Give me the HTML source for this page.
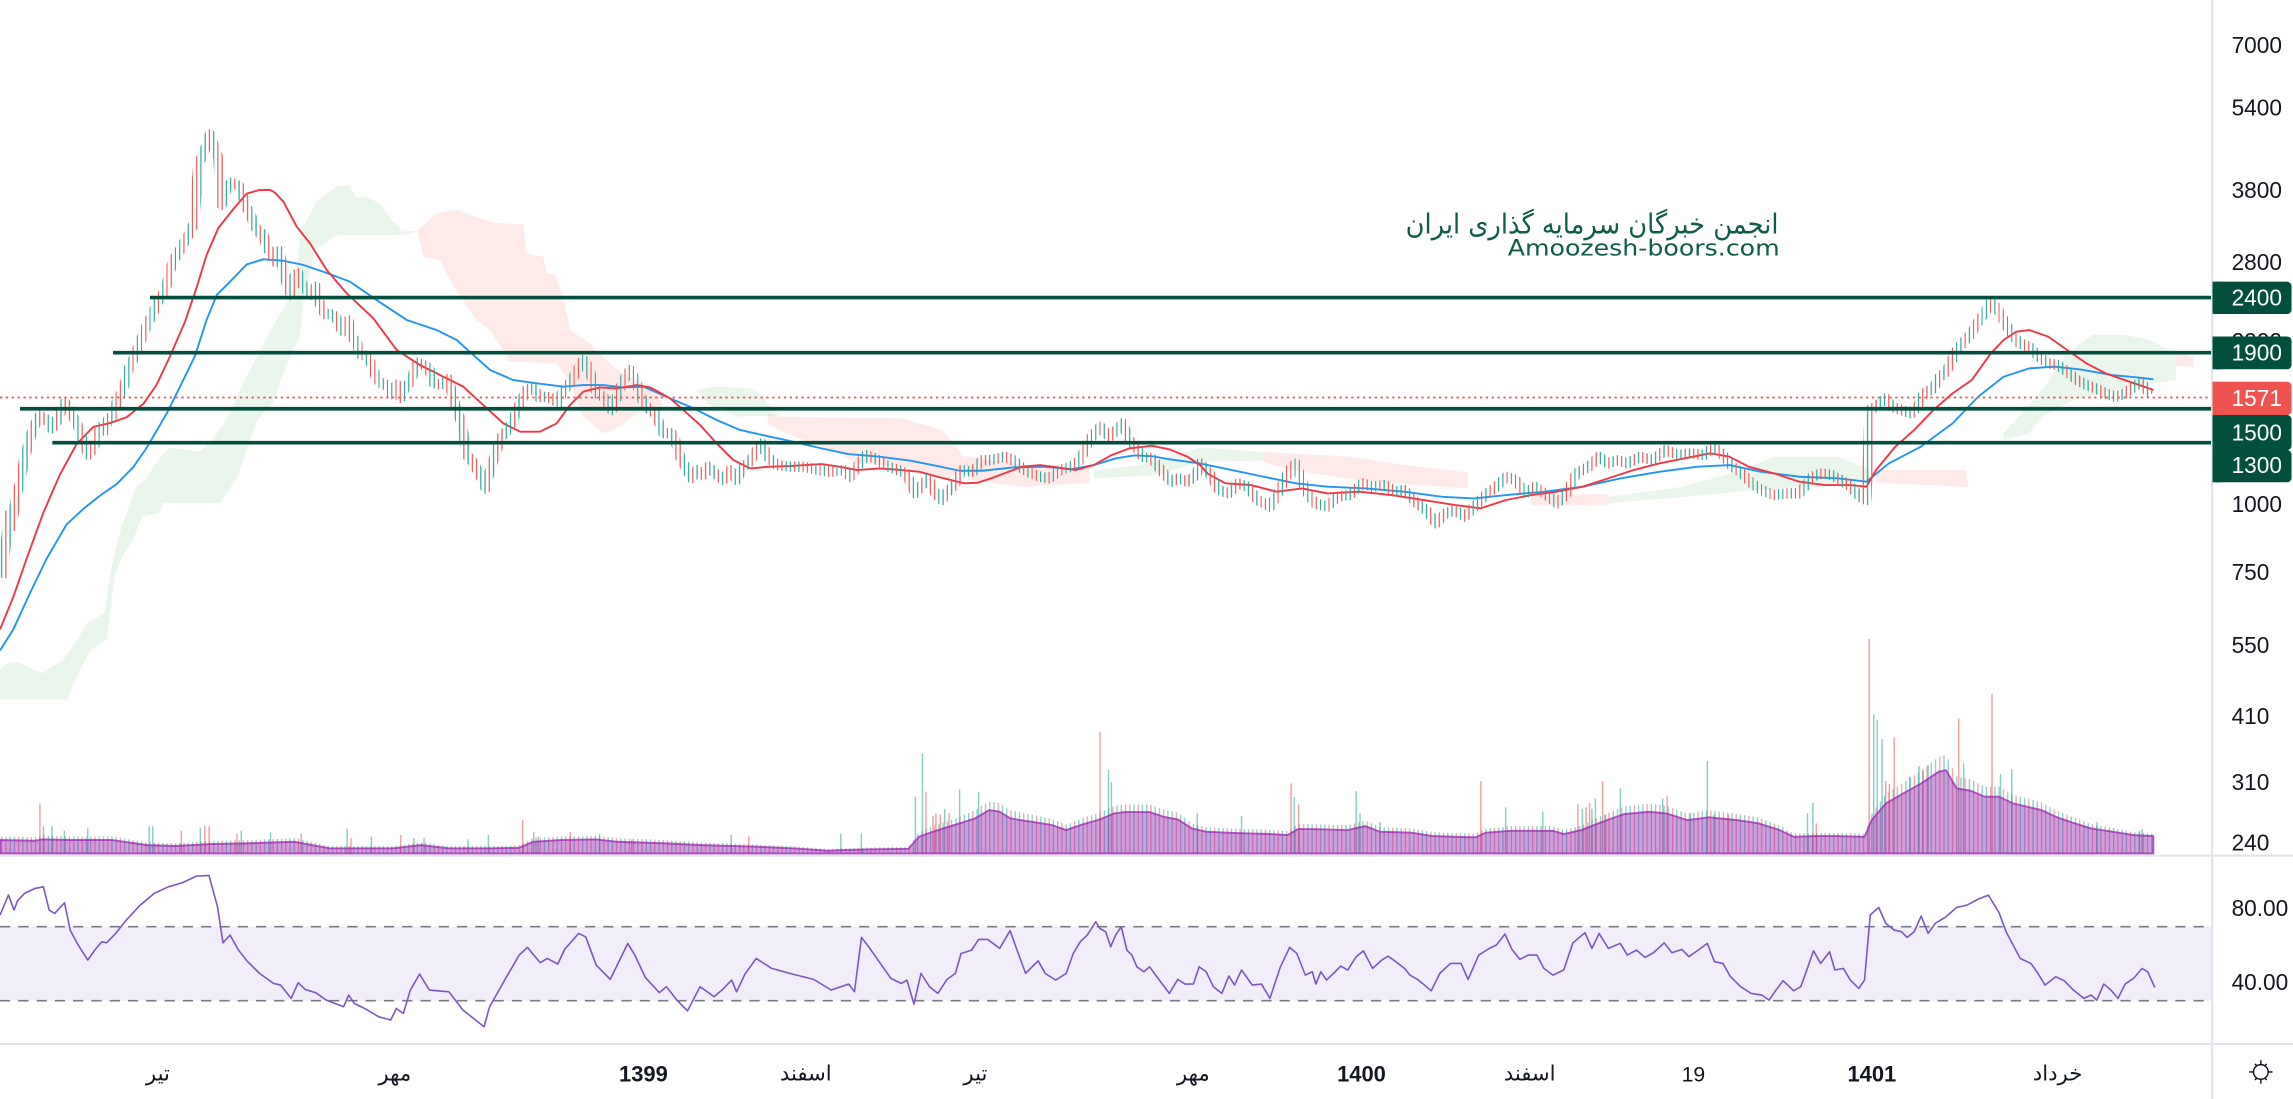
<!DOCTYPE html>
<html><head><meta charset="utf-8"><title>Chart</title>
<style>
html,body{margin:0;padding:0;background:#fff;overflow:hidden;}
svg{display:block;}
.ax{font-family:"Liberation Sans","DejaVu Sans",sans-serif;font-size:15.5px;fill:#131722;}
.lb{font-family:"Liberation Sans","DejaVu Sans",sans-serif;font-size:15.5px;fill:#ffffff;}
.tm{font-family:"DejaVu Sans","Liberation Sans",sans-serif;font-size:14.5px;fill:#131722;}
.tb{font-family:"Liberation Sans","DejaVu Sans",sans-serif;font-size:15px;font-weight:bold;fill:#131722;}
</style></head>
<body>
<svg xmlns="http://www.w3.org/2000/svg" xmlns:xlink="http://www.w3.org/1999/xlink" width="2293" height="1099" viewBox="0 0 1568 751.5" preserveAspectRatio="none">
<defs>
<pattern id="cp" patternUnits="userSpaceOnUse" x="0.2" y="0" width="17.4" height="20">
<rect x="0" y="0" width="1.8" height="20" fill="#26a69a"/>
<rect x="2.9" y="0" width="1.8" height="20" fill="#ef5350"/>
<rect x="5.8" y="0" width="1.8" height="20" fill="#26a69a"/>
<rect x="8.7" y="0" width="1.8" height="20" fill="#ef5350"/>
<rect x="11.6" y="0" width="1.8" height="20" fill="#ef5350"/>
<rect x="14.5" y="0" width="1.8" height="20" fill="#26a69a"/>
</pattern>
<pattern id="wp" patternUnits="userSpaceOnUse" x="0.2" y="0" width="17.4" height="20">
<rect x="0.6" y="0" width="0.6" height="20" fill="#26a69a"/>
<rect x="3.5" y="0" width="0.6" height="20" fill="#ef5350"/>
<rect x="6.4" y="0" width="0.6" height="20" fill="#26a69a"/>
<rect x="9.3" y="0" width="0.6" height="20" fill="#ef5350"/>
<rect x="12.2" y="0" width="0.6" height="20" fill="#ef5350"/>
<rect x="15.1" y="0" width="0.6" height="20" fill="#26a69a"/>
</pattern>
<pattern id="vp" patternUnits="userSpaceOnUse" x="0.7" y="0" width="8.7" height="20">
<rect x="0" y="0" width="0.9" height="20" fill="#26a69a" fill-opacity="0.55"/>
<rect x="2.9" y="0" width="0.9" height="20" fill="#ef5350" fill-opacity="0.55"/>
<rect x="5.8" y="0" width="0.9" height="20" fill="#26a69a" fill-opacity="0.55"/>
</pattern>
</defs>
<rect x="0" y="0" width="1568" height="751.5" fill="#ffffff"/>

<!-- Ichimoku clouds -->
<g fill="#43a047" fill-opacity="0.11">
<polygon points="0,457.8 4.6,454 11.4,452.6 22.8,457.8 29.6,460.4 36.5,455.2 42.2,452.6 47.9,444.8 54.7,434.3 59.3,426.5 66.1,422.5 71.8,418.6 75.2,392.5 78.6,378.1 82.1,363.7 86.6,350.7 93.5,332.4 98,329.8 104.9,319.3 112.8,308.9 116.3,306.2 136.8,308.9 145.9,299.7 152.7,290.6 159.6,277.5 166.4,261.8 173.2,248.7 180,235.7 186.9,222.6 193.8,210.8 200.6,200.4 204,173 206.3,157.3 216.5,137.9 230.2,127.6 238.2,126.5 243.9,135.6 249.6,134.5 259.8,139 266.7,149.3 274.7,157.3 284.9,158.4 273.5,160.7 230.2,160.7 223.4,165.3 215.4,171 207.4,205.2 205.1,230.2 202.9,234.8 196,248.7 186.9,274.9 175.5,288 171,301 161.8,327 150.4,344 111.7,344 109.4,350.7 96.9,353.3 91.2,368.9 84.3,379.4 78.6,392.5 72.9,437 61.5,444.8 54.7,457.8 45.6,478.2 0,478.2"/>
<polygon points="476.4,266.7 490.1,264.4 512.9,265.6 519.7,269 525,276 534,284 503.8,284.9 484,276"/>
<polygon points="748,322 780,318 820,306 864,309 864,315 820,316 790,325 748,327"/>
<polygon points="1100,339.7 1150,333 1190,322 1213,312.3 1256.7,312.3 1278.5,321.4 1278.5,328 1250,332 1200,335 1150,340 1100,344"/>
<polygon points="1370,296 1385,280 1400,262 1413,242 1431,229 1453,229 1470,232.5 1488,241.6 1488,259.9 1457,264.4 1418,273.5 1396,285 1387.5,296.3 1370,300.9"/>
</g>
<g fill="#f44336" fill-opacity="0.11">
<polygon points="284.9,158.4 298.6,145.9 312.3,143.6 328.2,149.3 339.6,152.7 357.9,153.2 360.1,173.2 371.5,175.5 373.8,186.9 379.5,188 385.2,202.9 389.8,225.7 403.4,234.8 410.3,241.6 419.4,250.7 430,258 440,263 452,267 452.5,280.4 435.4,282.6 424,291.8 412.6,296.3 398.9,284.9 389.8,262.1 380.7,248.5 348.7,247.3 346.5,242.8 335.1,225.7 326,218.8 316.8,205.2 307.7,191.5 300.9,177.8 289.5,175.5 286,159.5"/>
<polygon points="525,283 534,285 616.6,286.1 644.1,294 659.4,312.3 662,318 647.2,328.3 616.6,319.1 586.1,316.9 573.9,310 555.6,303.2 537.3,296.3 525,290"/>
<polygon points="660,312 700,318 745,320 745,330 700,333 662,328"/>
<polygon points="864,309 880,310 920,312 960,318 1004,323 1004,334 960,331 920,327 880,321 864,316"/>
<polygon points="1047,338 1100,338 1100,345.5 1047,345.5"/>
<polygon points="1283,321.4 1344,321.4 1346,333 1283,330"/>
<polygon points="1488,241 1500,244 1500,251 1488,250"/>
</g>

<!-- RSI band -->
<rect x="0" y="633.7" width="1512" height="50.6" fill="#7e57c2" fill-opacity="0.1"/>
<line x1="0" y1="633.7" x2="1512" y2="633.7" stroke="#787b86" stroke-width="1.1" stroke-dasharray="7 5.5"/>
<line x1="0" y1="684.3" x2="1512" y2="684.3" stroke="#787b86" stroke-width="1.1" stroke-dasharray="7 5.5"/>
<polyline fill="none" stroke="#7e57c2" stroke-width="1.1" stroke-linejoin="round" points="0,625.7 5.8,612 9.6,622.3 12,615.9 16.8,610.9 24,607.5 29.7,606.4 33.6,622.3 37.4,624.6 44.1,617.3 48,636 52.8,645.1 60,656.5 64.8,649.7 69.6,644 72.9,644.7 79.1,638.3 86.3,629.2 95.9,618.9 105.5,610.9 115.1,606.4 124.7,603.6 134.3,599.1 142.9,598.6 148.7,620 152.5,644.7 157.3,639.4 163.1,649.7 168.8,657 177.5,665.6 187.1,672.5 191.9,673.6 199.1,682.7 203.9,672 208.7,676.6 215.9,678.8 223.1,683.9 235,688.4 238.4,680.4 242.2,686.1 249.4,689.6 259,695.3 267.2,697.5 271,689.6 275.8,693 280.6,677 286.9,666.1 293.6,677 307,678.2 316.6,690.7 331,702.1 334.8,688.4 345.4,669.7 355,653.1 360.7,647.8 369.4,658.3 374.2,655.4 381.4,659.2 386.1,649.2 395.7,638.3 400.5,640.6 407.7,659.9 417.3,669.7 429.3,645.1 434.1,653.1 441.3,668.4 450.9,678.8 455.7,674.7 462.9,683.9 470.1,691.2 478.7,674.7 484.5,678.8 488.3,681.6 494.1,676.6 500.3,670.2 503.7,678.2 509.4,666.1 517.1,655.4 527.7,662.2 542,666.1 556.4,669.7 568.4,677 580.4,672.9 584.3,678.2 589.1,641 594.8,648.5 602,658.8 609.2,669 616.4,672.5 620.2,670.2 625,686.6 629.8,665.6 635.6,674.7 641.3,679.3 647.6,669.7 653.3,665.6 657.2,652 664.4,649.7 669.2,642.4 675.4,642.4 683.6,648.5 690.7,636.4 695.5,649.7 701.3,665.6 709.9,657 714.7,665.6 721.9,670.2 729.1,665.6 733.9,652 738.7,644 743.5,639.4 749.3,630.3 752.2,635 756.1,637.1 759.5,647.4 762.9,639.4 766.7,633.7 770.6,649.7 774,653.1 777.4,661.1 782.2,664.5 786.1,661.1 791.9,669 799.6,679.3 805.4,669.7 810.3,672.9 816.1,672.9 820,661.1 824.8,664.5 829.7,674.7 835.5,679.3 840.3,667.4 844.2,673.6 849,663.3 856.3,673.6 862.6,672.9 868.4,682.7 875.6,661.1 881.9,647.8 886.8,652 892.6,666.8 897.4,664.5 899.8,672.9 903.2,664.5 907.1,670.2 911.9,665.6 916.8,660.6 921.6,663.3 927.4,654.2 932.3,650.1 938.6,662.2 944.9,656.5 949.2,653.8 954.5,657.6 960.4,662.2 964.2,666.8 970,670.2 978.7,677.5 984.6,665.6 991.8,658.8 999.1,658.8 1003.9,669.7 1011.2,653.1 1018.4,648.5 1023.3,646.2 1029.1,638.7 1033.9,649.2 1039.3,656 1045.1,653.1 1051,653.1 1055.7,662.2 1062,666.8 1069.3,663.3 1075.6,644.7 1083.8,637.8 1088.6,648.5 1093.5,638.3 1099.8,648.5 1108,645.1 1112.8,653.1 1119.1,649.7 1124.9,654.7 1130.7,651.5 1138,644.7 1143.3,651.5 1150.1,649.2 1154.9,654.2 1161.2,649.7 1167.5,645.1 1172.4,657.6 1178.2,658.8 1183,667.4 1190.3,674.7 1197.5,679.3 1204.8,680.4 1209.7,683.9 1214.5,677 1219.3,670.6 1226.6,677.5 1231.4,674.7 1236.3,661.1 1240.1,650.1 1245,658.8 1251.1,650.8 1254.7,663.3 1260.5,662.2 1265.3,670.2 1271.1,675.9 1275,670.2 1278.9,625.7 1284.7,620.5 1289.5,631.4 1295.3,636 1300.2,637.1 1304.1,641 1309,637.1 1313.7,626.4 1318.5,638.3 1323.4,631.4 1330.7,626.9 1338,620.5 1345.2,618.9 1352.4,615 1359.7,612.1 1367,624.1 1371.8,637.1 1376.6,646.2 1381.5,655.4 1388.8,658.8 1393.6,665.6 1398.4,673.6 1405.7,667.9 1411.5,670.6 1417.8,677 1425,682.7 1429.9,680.4 1433.8,683.9 1438.6,672.9 1443.5,677 1448.3,682.7 1453.2,672.9 1459,669 1464.8,662.2 1468.6,664.5 1473.5,675.2"/>

<!-- Volume bars (pattern) -->
<polygon fill="url(#vp)" points="0,583.6 0,572 24,572.5 28.8,571 48,572 76.8,572 100.7,576 120,576.5 144,575 167.9,574.5 201.5,573 225.5,578.5 268.6,578.5 287.8,576 307,578.5 335.8,578.5 355,578 364.6,573 383.8,572 407.7,571.5 422.1,573 455.7,574.5 479.7,576 518,577.5 542,578.5 566,580.5 575.6,580 594.8,579.5 621.2,579 628.4,569 638,565 652.4,560 666.8,554 676.4,548 683.5,549 690.8,554 705.1,557 719.5,560 729.1,564 738.7,560 752.2,555.5 761.9,551 769.1,550 786.1,550 795.8,553.5 805.4,555.5 815.1,563 824.8,565.5 839.3,566.5 853.9,567 868.4,567.5 880.5,568.3 887.7,563.5 897.4,563.5 921.6,564.3 933.7,561 943.4,565.5 965.2,566.5 979.7,569 1008.8,570 1016,566.5 1033,565 1062,565 1069.3,567.5 1081.4,564.5 1095.9,557.5 1110.4,551.5 1127.4,549.5 1139.5,551 1154,556.5 1168.5,554 1187.9,556.5 1202.4,559 1216.9,564.5 1226.6,570 1241.1,569.5 1255.6,569.5 1275,570 1279.9,556.5 1289.5,543 1301.6,535 1313.7,527 1325.8,517.5 1330.7,516 1338,531 1347.6,533 1357.3,538 1367,538 1376.7,543.5 1386.4,546 1396,548.5 1405.7,554 1415.4,558 1430,563.5 1444.4,566 1459,569 1472.5,570 1472.5,583.6"/>
<path fill="#26a69a" fill-opacity="0.55" d="M29.2 565h1V583.6h-1zM35 565h1V583.6h-1zM43.5 568h1V583.6h-1zM59.5 566.5h1V583.6h-1zM101.5 565h1V583.6h-1zM104 565h1V583.6h-1zM136.5 566h1V583.6h-1zM164.5 568h1V583.6h-1zM184.5 569h1V583.6h-1zM236.9 566.5h1V583.6h-1zM253.5 572h1V583.6h-1zM282.5 573h1V583.6h-1zM289.5 573h1V583.6h-1zM319.5 574h1V583.6h-1zM333.5 571h1V583.6h-1zM367.5 572h1V583.6h-1zM409.5 570h1V583.6h-1zM499.5 571h1V583.6h-1zM574.5 570h1V583.6h-1zM588.5 570h1V583.6h-1zM625.5 544.8h1V583.6h-1zM630.3 515.2h1V583.6h-1zM645.5 553h1V583.6h-1zM655.7 539.8h1V583.6h-1zM668.7 541.4h1V583.6h-1zM757.5 526.6h1V583.6h-1zM759.5 535h1V583.6h-1zM818.2 556h1V583.6h-1zM848.5 558h1V583.6h-1zM884.5 545h1V583.6h-1zM926.9 541h1V583.6h-1zM929.5 556h1V583.6h-1zM943.1 562h1V583.6h-1zM1029.1 552h1V583.6h-1zM1054.5 555h1V583.6h-1zM1081.5 553h1V583.6h-1zM1088.1 553h1V583.6h-1zM1090.5 546h1V583.6h-1zM1107.5 539.1h1V583.6h-1zM1136.5 546h1V583.6h-1zM1155.5 556h1V583.6h-1zM1167 520.4h1V583.6h-1zM1171.5 557h1V583.6h-1zM1235.5 556h1V583.6h-1zM1239.2 549h1V583.6h-1zM1280.8 488.5h1V583.6h-1zM1283.2 492.4h1V583.6h-1zM1286.5 505.4h1V583.6h-1zM1305.5 531h1V583.6h-1zM1311.8 523.8h1V583.6h-1zM1318 523.2h1V583.6h-1zM1342.3 522h1V583.6h-1zM1367.5 529.3h1V583.6h-1zM1375.2 525.9h1V583.6h-1zM1433.5 562h1V583.6h-1zM1462.5 568h1V583.6h-1zM1464.3 567h1V583.6h-1z"/>
<path fill="#ef5350" fill-opacity="0.55" d="M26.8 549.4h1V583.6h-1zM123.5 568h1V583.6h-1zM139.5 565h1V583.6h-1zM142.5 565h1V583.6h-1zM161.5 570h1V583.6h-1zM205.5 570h1V583.6h-1zM239.5 573h1V583.6h-1zM273.5 571h1V583.6h-1zM356.9 560.8h1V583.6h-1zM364.5 569h1V583.6h-1zM389.5 569h1V583.6h-1zM431.5 574h1V583.6h-1zM511.5 572h1V583.6h-1zM632.7 541.4h1V583.6h-1zM637.5 558h1V583.6h-1zM639.5 556h1V583.6h-1zM642.5 557h1V583.6h-1zM648.5 556h1V583.6h-1zM751.7 500.4h1V583.6h-1zM882.4 535.7h1V583.6h-1zM887.5 550h1V583.6h-1zM1012.1 534.1h1V583.6h-1zM1078.5 550h1V583.6h-1zM1084.1 552h1V583.6h-1zM1086.5 549h1V583.6h-1zM1095.4 534.1h1V583.6h-1zM1097.5 557h1V583.6h-1zM1139.5 544h1V583.6h-1zM1181.5 557h1V583.6h-1zM1241.5 563h1V583.6h-1zM1277.7 437h1V583.6h-1zM1289 534h1V583.6h-1zM1291.5 536h1V583.6h-1zM1294.8 504.2h1V583.6h-1zM1314.5 527h1V583.6h-1zM1338.9 491.2h1V583.6h-1zM1361.7 474.6h1V583.6h-1z"/>
<polygon fill="#9c27b0" fill-opacity="0.45" stroke="#9c27b0" stroke-opacity="0.75" stroke-width="1.3" stroke-linejoin="round" points="0,583.6 0,574.4 24,574.9 28.8,574 48,574.4 76.8,574.4 100.7,577.9 120,578.5 144,577.2 167.9,576.7 201.5,575.6 225.5,580.1 268.6,580.1 287.8,577.9 307,580.1 335.8,580.1 355,579.7 364.6,575.6 383.8,574.4 407.7,574 422.1,575.6 455.7,576.7 479.7,577.9 518,579 542,580.1 566,581.7 575.6,581.3 594.8,580.8 621.2,580.4 628.4,572.2 638,568.7 652.4,564.2 666.8,559.6 676.4,553.9 683.5,555 690.8,559.6 705.1,561.9 719.5,564.2 729.1,567.6 738.7,564.2 752.2,560.3 761.9,556.2 769.1,555.3 786.1,555.3 795.8,558.5 805.4,560.3 815.1,566.5 824.8,568.7 839.3,569.4 853.9,569.9 868.4,570.3 880.5,571 887.7,566.9 897.4,566.9 921.6,567.6 933.7,564.9 943.4,568.7 965.2,569.4 979.7,571.7 1008.8,572.6 1016,569.4 1033,568.1 1062,568.1 1069.3,570.3 1081.4,567.6 1095.9,561.9 1110.4,556.7 1127.4,555.1 1139.5,556.2 1154,560.8 1168.5,558.9 1187.9,560.8 1202.4,563 1216.9,567.6 1226.6,572.2 1241.1,571.7 1255.6,571.7 1275,572.2 1279.9,560.8 1289.5,549.4 1301.6,542.5 1313.7,535.7 1325.8,527.7 1330.7,526.6 1338,539.1 1347.6,540.7 1357.3,544.8 1367,544.8 1376.7,549.4 1386.4,551.7 1396,553.9 1405.7,558.5 1415.4,561.9 1430,566.5 1444.4,568.7 1459,571 1472.5,571.7 1472.5,583.6"/>

<!-- Moving averages -->
<polyline fill="none" stroke="#2196f3" stroke-width="1.3" stroke-linejoin="round" points="0,444.8 9.1,430.4 20.5,405.6 31.9,382 45.6,358.5 57,348 68.4,338.9 79.8,331 91.2,319.3 100.3,306.2 114,282.7 123.1,264.4 133.3,243.5 141.3,218.7 148.2,201.7 157.3,192.6 168.7,180.8 180.1,177.3 193.8,178.3 207.4,181.2 221.1,185.8 239.3,192.6 257.6,205.2 278.1,218.8 298.6,225.7 312.3,232.5 323.7,242.8 335.1,253 351,259.9 367,262.1 385.2,264.4 398.9,263.3 412.6,263.3 426.3,264.9 440,264.4 458.2,272.4 474.1,279.2 490.1,287.2 506,294 526.5,298.6 537.3,300.9 561.7,306.6 580,310.5 601.4,312.3 622.7,315 641,318.7 656.3,321.9 671.6,321.9 693,319.6 714.3,319.1 732.6,320.9 747.9,318 763.1,313.4 775.4,311.4 787.6,311.9 799.8,314.1 820.6,316.9 842.4,321.4 864.2,326 886,330.5 907.8,332.8 934,334 960.2,336.2 986.3,339.7 1008.1,340.8 1029.9,338.5 1056.1,336.2 1082.3,332.8 1108.4,327.1 1134.6,322.6 1160.8,319.1 1182.6,318 1204.4,322.6 1230.5,326 1256.7,327.1 1276.3,329.4 1291.6,316.9 1313.4,305.5 1335.2,289.5 1352.7,271.3 1370.1,257.6 1387.6,251.9 1405,250.7 1422.4,252.6 1444.2,256.5 1461.7,258.1 1472.6,259.4"/>
<polyline fill="none" stroke="#f23645" stroke-width="1.3" stroke-linejoin="round" points="0,430.4 9.1,408.2 18.2,382 29.6,350.7 41,324.5 52.4,303.6 63.8,291.9 75.2,289.3 86.6,285.3 98,276.2 107.1,263.1 116.3,243.5 126.5,220 134.5,196.5 141.3,174.3 149.3,155.9 159.6,142.9 168.7,132.4 177,130 184.6,129.9 188,131.7 193.8,137.9 202.9,155 212,166.4 223.4,184.6 237.1,200.6 255.3,217.7 271.2,239.3 287.2,249.6 303.2,257.6 316.8,264.4 330.5,277 344.2,289.5 355.6,295.2 369.3,295.2 380.7,289.5 389.8,277 398.9,267.8 410.3,264.9 421.7,265.6 435.4,263.3 444.5,264.9 458.2,272.4 467.3,280.4 478.7,290.6 490.1,303.2 501.5,314.6 512.9,320.3 526.5,319.1 540.3,318.7 561.7,317.3 573.9,319.1 586.1,321.4 601.4,320.3 616.6,321.4 628.8,322.6 641,326 650.2,328.3 659.4,330.5 668.5,330.1 677.7,327.1 686.8,323.7 699,319.1 711.3,318 723.5,319.6 735.7,321.4 747.9,318 760.1,311.2 772.3,306.6 787.6,304.8 799.8,307.3 812,312.3 820.6,318 826,324 838,330.5 855.5,331.7 872.9,336.2 890.4,334 907.8,337.4 929.6,336.2 951.4,338.5 973,341.9 995,345.4 1012.5,347.6 1029.9,341.9 1047.4,338.5 1064.8,336.2 1082.3,332.8 1099.7,327.1 1117.1,321.4 1134.6,316.9 1152,313.4 1169.5,310 1182.6,312.3 1195.7,319.1 1213.1,323.7 1230.5,329.4 1248,331.7 1265.4,331.7 1276.3,332.8 1282.9,321.4 1296,305.5 1309,294 1322.1,280.4 1335.2,269 1348.3,259.9 1361.4,241.6 1370.1,232.5 1378.8,226.8 1387.6,225.7 1400.6,230.2 1413.7,239.4 1426.8,248.5 1439.9,255.3 1453,259.9 1466,264.4 1472.6,266.7"/>

<!-- Candles (pattern-stroked price path) -->
<polyline id="pp" fill="none" stroke="url(#wp)" stroke-width="7" stroke-linejoin="round" stroke-linecap="butt" points="1.1,395 4,372 6,352 8,360 11,340 13.7,330 16.4,315 19.4,304 21.7,296 25,288 27.4,284 29.6,287 33,287 35.3,293 38,290 42,281 44.4,275 47.9,281 50,285 53.6,292 55,296 58,305 60.4,311 63.4,307.6 66,301 68.4,292 71.8,294.5 74,286.6 77.5,284 79.8,275 82.5,269.6 85.5,262 87.8,252.6 91.2,245.6 94.6,237 96.2,233 100.3,222.6 104.9,213.5 107,208 110.5,203 114,195 116,186 118.5,178 122,173 124,169 127,164 130,158.6 133,151.5 135.6,112 138,107.6 141,99.8 143.6,91.9 146,99 149.3,108 151.6,140 155,128.5 158,125 160.7,126 163.4,127 166,134 168.7,142 171.4,147 174.4,154.7 177,159 180,160 182.4,169.8 185,172 188,179 191,171.6 193.8,186 196,193.9 199,201.7 201.7,188 204,187 207,195 209.7,198.3 212.4,201.7 215.9,196 218.8,208 222.2,214.8 226.8,214.8 229.8,217 232.5,223.9 234.8,226.5 238.2,219 241,231 243.9,233.8 246.2,242.2 250.7,243.5 254.6,250 257,257.9 260,261.8 264.4,263.1 267.8,269.6 271.3,263 274,272 277,265 280,262 282.6,256 285,248 288,249 290.6,250 293.4,252 296.3,261.8 301,263 306.6,259 310,272.3 312.3,280 315.7,289.3 319.1,311.1 323.2,315.7 329.4,327.1 332,334 334.6,323.7 339.6,307.7 343,298.6 348.3,292.9 355.6,275.8 360.1,266.7 364.7,264.4 368.1,271.3 373.8,271.3 377.2,272.4 381.8,275.8 384.1,269 391,259.9 395.5,251.9 398.9,246.2 402.3,250.7 408,269 412.6,271.3 418.3,280.4 420.6,274.7 426.3,259.9 430.9,253 435.4,262.1 440,275.8 444.5,280.4 448,282.7 453.6,296.3 459.3,296.3 461.6,300.9 465,312.3 467.3,316.8 473,327.1 476.4,321.4 480.9,324.8 484.4,319.1 488.9,323.7 494.6,328.2 499.2,321.4 503.8,328.2 508.3,319.1 512.9,315.7 517.5,307.7 520.9,303.2 525,312.3 531.2,318 540,319 549.5,319.1 558,321 567.8,322.6 576.9,321.4 581.5,326 586.1,319.1 592.2,311.2 598.3,313.4 607.5,319.1 613,321 619.7,323.7 625.8,337.4 630.4,331.7 634.9,327.1 639.5,337.4 644.1,341.9 647.2,337.4 653.3,330.5 657.8,321.4 665.5,322.6 671.6,314.6 677.7,314.6 686.8,312.3 692.9,314.6 699,320.3 705.2,323.7 711.3,326 717.4,327.1 725,321.4 732.6,319.1 738.7,314.6 744.8,300.9 752.5,291.8 758.6,298.6 764.7,292.9 767.7,289.5 772.3,300.9 776.9,305.5 781.5,312.3 787.6,313.4 792.1,319.1 796.7,324.8 801.3,329.4 805.9,327.1 812,329.4 818.1,324.8 820.6,316.9 827.1,323.7 833.7,335.1 840.2,337.4 846.8,330.5 853.3,332.8 859.9,341.9 868.6,346.5 875.1,335.1 881.7,321.4 886,316.9 892.6,335.1 899.1,344.2 907.8,346.5 914.4,339.7 923.1,338.5 931.8,330.5 938.3,332.8 947.1,331.7 953.6,336.2 960.2,335.1 968.9,344.2 975.4,348.8 982,357.9 988.5,351 995,348.8 1001.6,353.3 1006,348.8 1010.3,344.2 1016.9,337.4 1023.4,332.8 1029.9,326 1036.5,328.3 1043,337.4 1049.6,332.8 1056.1,337.4 1064.8,344.2 1071.4,337.4 1077.9,323.7 1086.6,319.1 1093.2,312.3 1099.7,316.9 1106.2,314.6 1112.8,316.9 1121.5,312.3 1130.2,314.6 1139,307.7 1147.7,311.2 1156.4,310 1165.1,311.2 1171.7,305.5 1178.2,311.2 1184.8,319.1 1191.3,323.7 1197.8,330.5 1204.4,335.1 1213.1,338.5 1221.8,337.4 1230.5,337.4 1239.3,326 1245.8,323.7 1252.3,324.8 1258.9,328.3 1265.4,332.8 1272,339.7 1276.3,342 1278.5,280.4 1282.9,278.1 1289.4,272.4 1293.8,278.1 1300.3,280.4 1306.8,282.7 1311.2,278.1 1315.6,269 1322.1,265.6 1326.5,257.6 1330.9,254.2 1337.4,240.5 1341.8,234.8 1348.3,228 1352.7,220 1357,214.3 1361.4,206.3 1365.7,210.9 1370.1,218.8 1374.5,226.8 1381,234.8 1387.6,237.1 1394.1,243.9 1400.6,248.5 1407.2,249.6 1413.7,254.2 1420.3,259.9 1426.8,263.3 1433.3,265.6 1439.9,269 1446.4,271.3 1453,269 1459.5,264.4 1463.9,261 1470.4,270"/>
<use href="#pp" xlink:href="#pp" style="stroke:url(#cp);stroke-width:3.5"/>

<!-- Level lines -->
<g stroke="#024f3e" stroke-width="2.5">
<line x1="102.6" y1="203.5" x2="1512" y2="203.5"/>
<line x1="77.3" y1="241.2" x2="1512" y2="241.2"/>
<line x1="13.7" y1="279.5" x2="1512" y2="279.5"/>
<line x1="35.8" y1="302.7" x2="1512" y2="302.7"/>
</g>
<line x1="0" y1="271.8" x2="1512" y2="271.8" stroke="#ef5350" stroke-width="1.2" stroke-dasharray="1.6 2.4"/>

<!-- Separators -->
<rect x="0" y="584.4" width="1568" height="1.4" fill="#e0e3eb"/>
<rect x="0" y="713.2" width="1568" height="1.4" fill="#e0e3eb"/>
<rect x="1512" y="0" width="1.4" height="751.5" fill="#e0e3eb"/>

<!-- Price axis labels -->
<g class="ax">
<text x="1526" y="36.3">7000</text>
<text x="1526" y="78.9">5400</text>
<text x="1526" y="135.5">3800</text>
<text x="1526" y="184.5">2800</text>
<text x="1526" y="238.5">2000</text>
<text x="1526" y="350">1000</text>
<text x="1526" y="396.5">750</text>
<text x="1526" y="446.5">550</text>
<text x="1526" y="495.2">410</text>
<text x="1526" y="540.3">310</text>
<text x="1526" y="581.5">240</text>
<text x="1526" y="626.5">80.00</text>
<text x="1526" y="677">40.00</text>
</g>

<!-- Level label boxes -->
<g fill="#024f3e">
<rect x="1513" y="192.6" width="54" height="22.1" rx="3"/><rect x="1513" y="192.6" width="6" height="22.1"/>
<rect x="1513" y="230.1" width="54" height="22.4" rx="3"/><rect x="1513" y="230.1" width="6" height="22.4"/>
<rect x="1513" y="283.8" width="54" height="23.9" rx="3"/><rect x="1513" y="283.8" width="6" height="23.9"/>
<rect x="1513" y="307.7" width="54" height="22.1" rx="3"/><rect x="1513" y="307.7" width="6" height="22.1"/>
</g>
<rect x="1513" y="261" width="54" height="22.8" rx="3" fill="#ef5350"/><rect x="1513" y="261" width="6" height="22.8" fill="#ef5350"/>
<g class="lb">
<text x="1526" y="209">2400</text>
<text x="1526" y="246.6">1900</text>
<text x="1526" y="277.6">1571</text>
<text x="1526" y="301.1">1500</text>
<text x="1526" y="323.6">1300</text>
</g>

<!-- Watermark -->
<text x="1088.7" y="159.5" text-anchor="middle" textLength="255" lengthAdjust="spacingAndGlyphs" font-family="'DejaVu Sans','Liberation Sans',sans-serif" font-size="19" fill="#0f5c49">انجمن خبرگان سرمایه گذاری ایران</text>
<text x="1124" y="174.8" text-anchor="middle" textLength="186" lengthAdjust="spacingAndGlyphs" font-family="'DejaVu Sans','Liberation Sans',sans-serif" font-size="15" fill="#0f5c49">Amoozesh-boors.com</text>

<!-- Time axis -->
<g class="tm" text-anchor="middle">
<text x="108" y="739">تیر</text>
<text x="270" y="739">مهر</text>
<text x="551" y="739">اسفند</text>
<text x="667" y="739">تیر</text>
<text x="816" y="739">مهر</text>
<text x="1046" y="739">اسفند</text>
<text x="1158" y="739.5" font-family="'Liberation Sans',sans-serif">19</text>
<text x="1407" y="739">خرداد</text>
</g>
<g class="tb" text-anchor="middle">
<text x="440" y="739.5">1399</text>
<text x="931" y="739.5">1400</text>
<text x="1280" y="739.5">1401</text>
</g>

<!-- Sun icon -->
<g stroke="#131722" stroke-width="1" fill="none">
<circle cx="1546" cy="733" r="5"/>
<line x1="1546" y1="725" x2="1546" y2="728"/>
<line x1="1546" y1="738" x2="1546" y2="741"/>
<line x1="1538" y1="733" x2="1541" y2="733"/>
<line x1="1551" y1="733" x2="1554" y2="733"/>
<line x1="1542" y1="727.5" x2="1543.5" y2="729"/>
<line x1="1550" y1="727.5" x2="1548.5" y2="729"/>
<line x1="1542" y1="738.5" x2="1543.5" y2="737"/>
<line x1="1550" y1="738.5" x2="1548.5" y2="737"/>
</g>
</svg>
</body></html>
